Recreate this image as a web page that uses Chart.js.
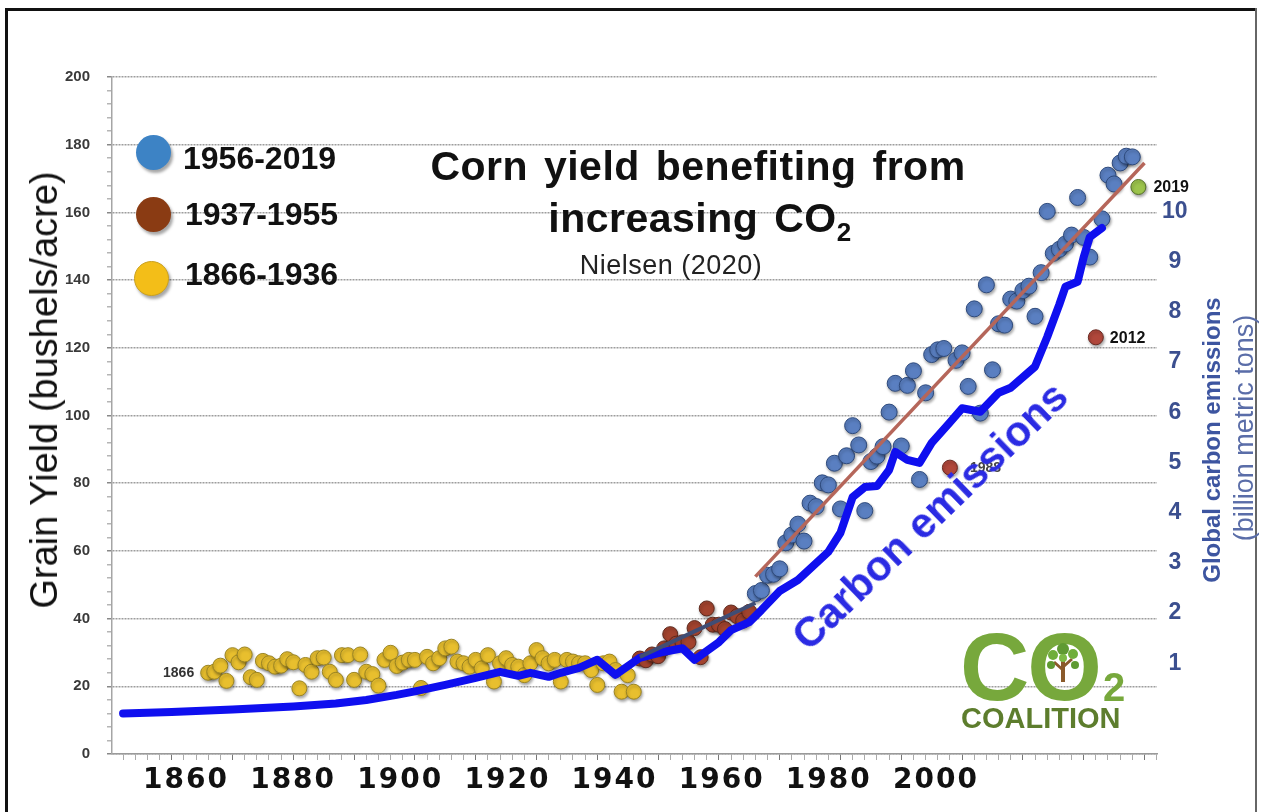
<!DOCTYPE html>
<html>
<head>
<meta charset="utf-8">
<title>Corn yield benefiting from increasing CO2</title>
<script src="https://cdn.jsdelivr.net/npm/chart.js@4.4.1/dist/chart.umd.min.js"></script>
<style>
  html, body { margin: 0; padding: 0; background: #fff; }
  #wrap { position: relative; width: 1261px; height: 812px; overflow: hidden; font-family: "Liberation Sans", Arial, sans-serif; }
  #chart { position: absolute; left: 0; top: 0; }
  .abs { position: absolute; white-space: nowrap; line-height: 1; }
  .frame { position: absolute; background: #111; }
  .title { font-size: 41px; font-weight: bold; color: #111; letter-spacing: 0.5px; word-spacing: 4px; transform: translateX(-50%); }
  .title .sub { font-size: 26px; position: relative; top: 9px; }
  .legend-dot { position: absolute; width: 35px; height: 35px; border-radius: 50%; box-shadow: 2px 3px 3px rgba(0,0,0,0.35); }
  .legend-txt { font-size: 32px; font-weight: bold; color: #111; }
</style>
</head>
<body>
<div id="wrap">
  <canvas id="chart" width="1261" height="812"></canvas>

  <!-- picture frame -->
  <div class="frame" style="left:5px; top:8px; width:1252px; height:3px;"></div>
  <div class="frame" style="left:5px; top:8px; width:3px; height:804px;"></div>
  <div class="frame" style="left:1255px; top:8px; width:2px; height:804px; background:#666;"></div>

  <!-- title -->
  <div class="abs title" style="left:698px; top:146px;">Corn yield benefiting from</div>
  <div class="abs title" style="left:700px; top:198px;">increasing CO<span class="sub">2</span></div>
  <div class="abs" style="left:671px; top:252px; font-size:27px; letter-spacing:0.5px; color:#222; transform:translateX(-50%);">Nielsen (2020)</div>

  <!-- legend -->
  <div class="legend-dot" style="left:136px; top:135px; background:#3d83c5;"></div>
  <div class="legend-dot" style="left:136px; top:197px; background:#8a3b13;"></div>
  <div class="legend-dot" style="left:134px; top:261px; background:#f3be18; border:1px solid #c9a020; width:33px; height:33px;"></div>
  <div class="abs legend-txt" style="left:183px; top:142px;">1956-2019</div>
  <div class="abs legend-txt" style="left:185px; top:198px;">1937-1955</div>
  <div class="abs legend-txt" style="left:185px; top:258px;">1866-1936</div>

  <!-- axis titles -->
  <div class="abs" style="left:44px; top:390px; font-size:38px; color:#111; transform:translate(-50%,-50%) rotate(-90deg);">Grain Yield (bushels/acre)</div>
  <div class="abs" style="left:1212px; top:440px; font-size:24px; font-weight:bold; color:#3d55a0; transform:translate(-50%,-50%) rotate(-90deg);">Global carbon emissions</div>
  <div class="abs" style="left:1244px; top:428px; font-size:27px; color:#5a6da8; transform:translate(-50%,-50%) rotate(-90deg);">(billion metric tons)</div>

  <!-- line annotation -->
  <div class="abs" style="left:930px; top:516px; font-size:42px; font-weight:bold; color:#2b2be3; transform:translate(-50%,-50%) rotate(-44deg);">Carbon emissions</div>

  <!-- logo -->
  <div class="abs" style="left:960px; top:619px; font-size:96px; font-weight:bold; color:#77a83c; letter-spacing:-2px;">CO</div>
  <svg class="abs" style="left:1043px; top:640px;" width="40" height="44" viewBox="0 0 40 44">
    <rect x="18" y="20" width="4" height="22" fill="#8a5a2b"/>
    <path d="M20 30 L11 22 M20 27 L29 19" stroke="#8a5a2b" stroke-width="3"/>
    <circle cx="20" cy="9" r="6" fill="#5f9a32"/>
    <circle cx="10" cy="15" r="5" fill="#6fae3a"/>
    <circle cx="30" cy="14" r="5" fill="#6fae3a"/>
    <circle cx="8" cy="25" r="4" fill="#5f9a32"/>
    <circle cx="32" cy="25" r="4" fill="#5f9a32"/>
    <circle cx="20" cy="18" r="4" fill="#7dbb45"/>
  </svg>
  <div class="abs" style="left:1103px; top:667px; font-size:40px; font-weight:bold; color:#77a83c;">2</div>
  <div class="abs" style="left:961px; top:704px; font-size:29px; font-weight:bold; color:#5d7d2d;">COALITION</div>
</div>

<script>
// yield 1866-1936 (yellow)
const earlyYears = [
  1866, 1867, 1868, 1869, 1870, 1871, 1872, 1873, 1874, 1875,
  1876, 1877, 1878, 1879, 1880, 1881, 1882, 1883, 1884, 1885,
  1886, 1887, 1888, 1889, 1890, 1891, 1892, 1893, 1894, 1895,
  1896, 1897, 1898, 1899, 1900, 1901, 1902, 1903, 1904, 1905,
  1906, 1907, 1908, 1909, 1910, 1911, 1912, 1913, 1914, 1915,
  1916, 1917, 1918, 1919, 1920, 1921, 1922, 1923, 1924, 1925,
  1926, 1927, 1928, 1929, 1930, 1931, 1932, 1933, 1934, 1935, 1936
];
const earlyYield = [
  24.0, 24.3, 26.1, 21.6, 29.2, 27.1, 29.4, 22.7, 21.9, 27.5,
  26.8, 25.8, 26.1, 28.0, 27.1, 19.4, 26.3, 24.3, 28.3, 28.5,
  24.3, 21.9, 29.2, 29.2, 21.9, 29.4, 24.3, 23.6, 20.2, 27.8,
  29.9, 26.0, 27.0, 27.8, 27.8, 19.5, 28.7, 26.8, 28.3, 31.2,
  31.7, 27.3, 26.8, 25.8, 27.8, 25.3, 29.2, 21.4, 26.8, 28.3,
  26.3, 25.8, 23.3, 26.8, 30.7, 28.3, 26.8, 27.8, 21.4, 27.8,
  27.3, 26.8, 26.8, 24.8, 20.4, 26.8, 27.3, 24.8, 18.4, 23.3, 18.4
];

// yield 1937-1955 (brown)
const midYears = [1937, 1938, 1939, 1940, 1941, 1942, 1943, 1944, 1945, 1946,
  1947, 1948, 1949, 1950, 1951, 1952, 1953, 1954, 1955];
const midYield = [28.2, 27.7, 29.4, 28.9, 31.2, 35.4, 32.6, 33.0, 33.1, 37.2,
  28.6, 43.0, 38.2, 38.2, 36.9, 41.8, 40.7, 39.4, 42.0];

// yield 1956-2018 (blue), 1988 and 2012 are drawn as marked points
const modernYears = [
  1956, 1957, 1958, 1959, 1960, 1961, 1962, 1963, 1964, 1965,
  1966, 1967, 1968, 1969, 1970, 1971, 1972, 1973, 1974, 1975,
  1976, 1977, 1978, 1979, 1980, 1981, 1982, 1983, 1984, 1985,
  1986, 1987, 1989, 1990, 1991, 1992, 1993, 1994, 1995,
  1996, 1997, 1998, 1999, 2000, 2001, 2002, 2003, 2004, 2005,
  2006, 2007, 2008, 2009, 2010, 2011, 2013, 2014, 2015,
  2016, 2017, 2018
];
const modernYield = [
  47.4, 48.3, 52.8, 53.1, 54.7, 62.4, 64.7, 67.9, 62.9, 74.1,
  73.1, 80.1, 79.5, 85.9, 72.4, 88.1, 97.0, 91.3, 71.9, 86.4,
  88.0, 90.8, 101.0, 109.5, 91.0, 108.9, 113.2, 81.1, 106.7, 118.0,
  119.4, 119.8, 116.3, 118.5, 108.6, 131.5, 100.7, 138.6, 113.5,
  127.1, 126.7, 134.4, 133.8, 136.9, 138.2, 129.3, 142.2, 160.3, 147.9,
  149.1, 150.7, 153.3, 164.4, 152.6, 146.8, 158.1, 171.0, 168.4,
  174.6, 176.6, 176.4
];

const markedYears = [1988, 2012, 2019];
const markedYield = [84.6, 123.1, 167.5];
const markedNames = ['1988', '2012', '2019'];
const markedFill = ['#b0473b', '#b0473b', '#9cc44c'];
const markedEdge = ['#6a2a22', '#6a2a22', '#55702a'];

// fitted trend lines
const trendMidYears = [1937, 1956];
const trendMidYield = [28.7, 44.6];
const trendLateYears = [1956, 2020];
const trendLateYield = [52.4, 174.6];

// global carbon emissions, billion metric tons
const carbonYears = [
  1852, 1860, 1870, 1880, 1887, 1892, 1897, 1900, 1905, 1910,
  1914, 1917, 1919, 1922, 1924, 1927, 1930, 1933, 1937, 1941,
  1944, 1946, 1950, 1952, 1955, 1957, 1960, 1963, 1968, 1970,
  1972, 1974, 1976, 1978, 1979, 1981, 1983, 1985, 1988, 1990,
  1993, 1996, 1998, 2002, 2004, 2006, 2007, 2009, 2010, 2011, 2013
];
const carbonValues = [
  0.00, 0.03, 0.08, 0.14, 0.20, 0.27, 0.37, 0.44, 0.57, 0.71,
  0.83, 0.75, 0.81, 0.73, 0.81, 0.91, 1.07, 0.77, 1.11, 1.23,
  1.30, 1.07, 1.42, 1.66, 1.82, 2.06, 2.44, 2.66, 3.22, 3.60,
  4.31, 4.51, 4.53, 4.85, 5.21, 5.05, 4.99, 5.39, 5.80, 6.08,
  6.01, 6.39, 6.49, 6.91, 7.50, 8.15, 8.50, 8.60, 9.09, 9.49, 9.67
];

const yearLabels = [1860, 1880, 1900, 1920, 1940, 1960, 1980, 2000];
const yieldTicks = [];
for (let v = 0; v <= 200; v += 4) yieldTicks.push(v);
const yearTicks = [];
for (let v = 1852; v <= 2022; v += 2) yearTicks.push(v);
const carbonTicks = [1, 2, 3, 4, 5, 6, 7, 8, 9, 10];

const pts = (xs, ys) => xs.map((x, i) => ({ x: x, y: ys[i] }));

// soft drop shadow under the scatter dots
const pointShadow = {
  id: 'pointShadow',
  beforeDatasetDraw(chart, args) {
    if (!chart.data.datasets[args.index].shadow) return;
    const c = chart.ctx;
    c.save();
    c.shadowColor = 'rgba(0,0,0,0.35)';
    c.shadowBlur = 3;
    c.shadowOffsetX = 1;
    c.shadowOffsetY = 2;
  },
  afterDatasetDraw(chart, args) {
    if (chart.data.datasets[args.index].shadow) chart.ctx.restore();
  }
};

// year notes next to single points
const pointNotes = {
  id: 'pointNotes',
  afterDatasetsDraw(chart) {
    const c = chart.ctx;
    const x = chart.scales.x, y = chart.scales.y;
    c.save();
    c.textBaseline = 'middle';
    c.fillStyle = '#333';
    c.font = 'bold 14px "Liberation Sans", Arial, sans-serif';
    c.textAlign = 'right';
    c.fillText(String(earlyYears[0]), x.getPixelForValue(earlyYears[0]) - 14, y.getPixelForValue(earlyYield[0]));
    c.textAlign = 'left';
    const gaps = [20, 14, 15];
    markedYears.forEach((yr, i) => {
      c.font = (i === 0 ? 'bold 14px' : 'bold 16px') + ' "Liberation Sans", Arial, sans-serif';
      c.fillStyle = i === 0 ? '#444' : '#111';
      c.fillText(markedNames[i], x.getPixelForValue(yr) + gaps[i], y.getPixelForValue(markedYield[i]) + 1);
    });
    c.restore();
    // wide lettering for the year labels, which are drawn after the datasets
    c.letterSpacing = '2px';
  },
  afterDraw(chart) {
    chart.ctx.letterSpacing = '0px';
  }
};

new Chart(document.getElementById('chart'), {
  type: 'scatter',
  data: {
    datasets: [
      {
        label: '1866-1936',
        data: pts(earlyYears, earlyYield),
        backgroundColor: '#e8bf2e',
        borderColor: '#9a8424',
        borderWidth: 1,
        pointRadius: 7.5,
        shadow: true,
        order: 5
      },
      {
        label: '1937-1955',
        data: pts(midYears, midYield),
        backgroundColor: '#a2432e',
        borderColor: '#5e2a1e',
        borderWidth: 1,
        pointRadius: 7.5,
        shadow: true,
        order: 5
      },
      {
        label: '1956-2019',
        data: pts(modernYears, modernYield),
        backgroundColor: '#5a7fc1',
        borderColor: '#2e4a7c',
        borderWidth: 1,
        pointRadius: 8,
        shadow: true,
        order: 5
      },
      {
        label: 'marked years',
        data: pts(markedYears, markedYield),
        backgroundColor: markedFill,
        borderColor: markedEdge,
        borderWidth: 1,
        pointRadius: 7.5,
        shadow: true,
        order: 4
      },
      {
        label: 'Carbon emissions',
        data: pts(carbonYears, carbonValues),
        yAxisID: 'y2',
        showLine: true,
        borderColor: '#0f0fef',
        borderWidth: 8,
        borderJoinStyle: 'round',
        borderCapStyle: 'round',
        pointRadius: 0,
        order: 3
      },
      {
        label: 'trend 1937-1955',
        data: pts(trendMidYears, trendMidYield),
        showLine: true,
        borderColor: '#3f4d75',
        borderWidth: 4,
        pointRadius: 0,
        order: 2
      },
      {
        label: 'trend 1956-2019',
        data: pts(trendLateYears, trendLateYield),
        showLine: true,
        borderColor: '#b5665a',
        borderWidth: 3.5,
        pointRadius: 0,
        order: 1
      }
    ]
  },
  options: {
    responsive: false,
    animation: false,
    events: [],
    layout: { padding: { top: 77, left: 0, right: 0, bottom: 0 } },
    plugins: {
      legend: { display: false },
      tooltip: { enabled: false }
    },
    scales: {
      x: {
        type: 'linear',
        position: 'bottom',
        min: 1850.18,
        max: 2022.06,
        afterBuildTicks: (s) => { s.ticks = yearTicks.map(v => ({ value: v })); },
        afterFit: (s) => { s.height = 6; },
        ticks: { display: false },
        grid: {
          drawOnChartArea: false,
          tickLength: 6,
          tickColor: (c) => (c.tick && c.tick.value % 10 === 0 ? '#777' : '#aaa')
        },
        border: { color: '#9a9a9a', width: 1.5 }
      },
      x2: {
        type: 'linear',
        position: 'bottom',
        min: 1846.19,
        max: 2041.26,
        afterBuildTicks: (s) => { s.ticks = yearLabels.map(v => ({ value: v })); },
        afterFit: (s) => { s.height = 52; },
        grid: { display: false },
        border: { display: false },
        ticks: {
          z: 1,
          autoSkip: false,
          maxRotation: 0,
          padding: -4,
          color: '#111',
          font: { family: '"DejaVu Sans", sans-serif', size: 28, weight: 'bold' },
          callback: (v) => String(v)
        }
      },
      y: {
        type: 'linear',
        position: 'left',
        min: 0,
        max: 200,
        afterBuildTicks: (s) => { s.ticks = yieldTicks.map(v => ({ value: v })); },
        afterFit: (s) => { s.width = 112; },
        ticks: {
          autoSkip: false,
          padding: 17,
          color: '#3a3a3a',
          font: { family: '"Liberation Sans", Arial, sans-serif', size: 15, weight: 'bold' },
          callback: (v) => (v % 20 === 0 ? String(v) : '')
        },
        grid: {
          color: (c) => (c.tick && c.tick.value % 20 === 0 ? '#9d9d9d' : 'rgba(0,0,0,0)'),
          lineWidth: 1.5,
          tickLength: 5,
          tickColor: (c) => (c.tick && c.tick.value % 20 === 0 ? '#888' : '#b5b5b5')
        },
        border: { color: '#a5a5a5', width: 1.5, dash: [2, 1] }
      },
      y2: {
        type: 'linear',
        position: 'right',
        min: -0.807,
        max: 12.679,
        afterBuildTicks: (s) => { s.ticks = carbonTicks.map(v => ({ value: v })); },
        afterFit: (s) => { s.width = 104; },
        grid: { drawOnChartArea: false, drawTicks: false },
        border: { display: false },
        ticks: {
          padding: 5,
          crossAlign: 'center',
          color: '#3b4f8f',
          font: { family: '"Liberation Sans Narrow", "Liberation Sans", sans-serif', size: 23, weight: 'bold' }
        }
      }
    }
  },
  plugins: [pointShadow, pointNotes]
});
</script>
</body>
</html>
